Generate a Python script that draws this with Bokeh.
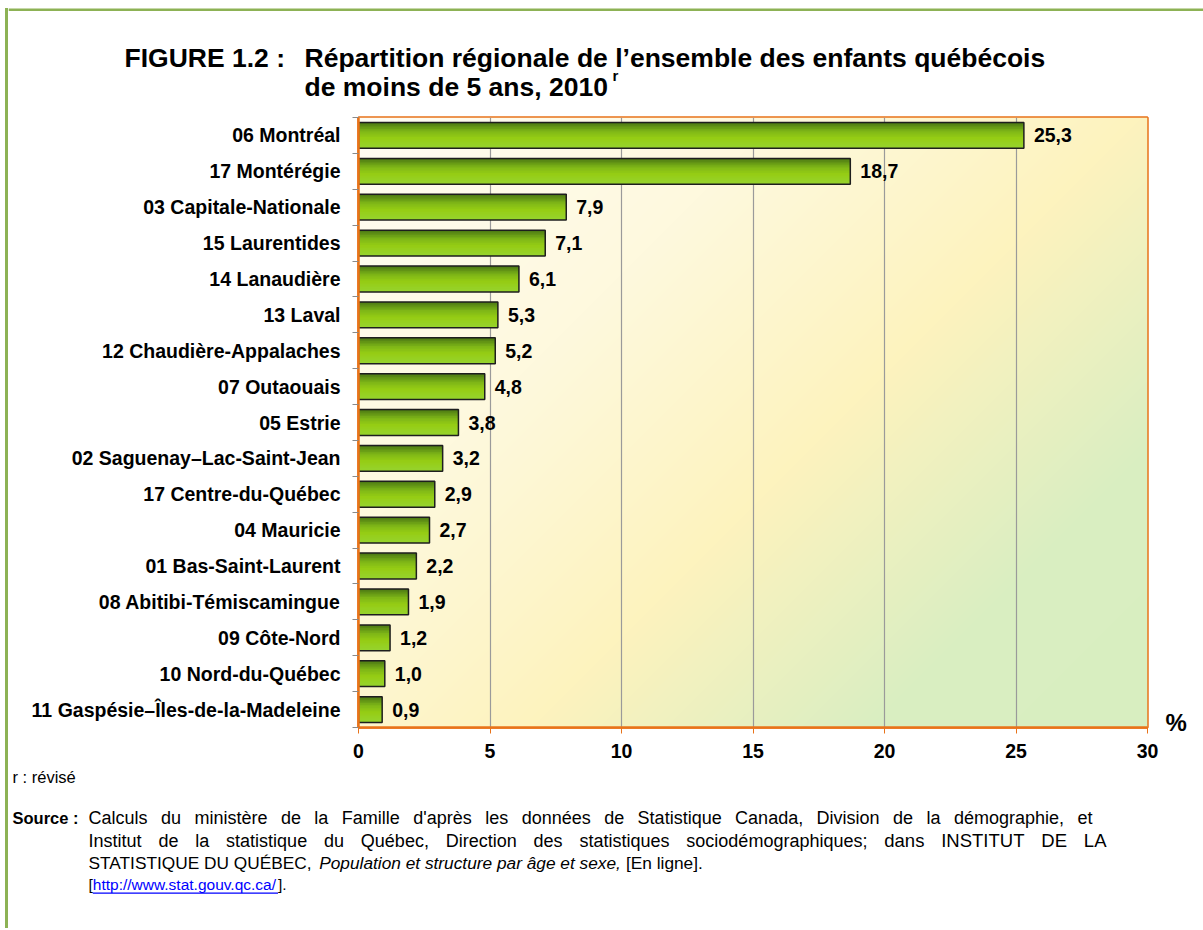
import numpy as np
from bokeh.plotting import figure
from bokeh.layouts import row, column
from bokeh.models import Range1d, FixedTicker, ColumnDataSource, LinearAxis, Spacer
from bokeh.core.properties import value
from bokeh.embed import file_html
from bokeh.resources import INLINE

# ---------------- data ----------------
regions = [
    "06 Montréal", "17 Montérégie", "03 Capitale-Nationale", "15 Laurentides",
    "14 Lanaudière", "13 Laval", "12 Chaudière-Appalaches", "07 Outaouais",
    "05 Estrie", "02 Saguenay–Lac-Saint-Jean", "17 Centre-du-Québec",
    "04 Mauricie", "01 Bas-Saint-Laurent", "08 Abitibi-Témiscamingue",
    "09 Côte-Nord", "10 Nord-du-Québec", "11 Gaspésie–Îles-de-la-Madeleine",
]
shares = [25.3, 18.7, 7.9, 7.1, 6.1, 5.3, 5.2, 4.8, 3.8, 3.2, 2.9, 2.7, 2.2, 1.9, 1.2, 1.0, 0.9]
x_ticks = [0, 5, 10, 15, 20, 25, 30]

title_label = "FIGURE 1.2 :"
title_line1 = "Répartition régionale de l’ensemble des enfants québécois"
title_line2 = "de moins de 5 ans, 2010"
title_sup = "r"
unit_text = "%"
note_text = "r : révisé"
source_head = "Source :"
source_l1 = "Calculs du ministère de la Famille d'après les données de Statistique Canada, Division de la démographie, et"
source_l2a = "Institut de la statistique du Québec, Direction des statistiques sociodémographiques;"
source_l2b = "dans INSTITUT DE LA"
source_l3a = "STATISTIQUE DU QUÉBEC,"
source_l3b = "Population et structure par âge et sexe,"
source_l3c = "[En ligne]."
source_url = "http://www.stat.gouv.qc.ca/"

# ---------------- layout constants (page pixels) ----------------
FONT = "Liberation Sans"
ORANGE = "#E8731A"
GREEN_BORDER = "#8DB255"
PAGE_W, PAGE_H = 1203, 928
X0 = 8                      # left edge of the main column (after the outer border)
TOP_H = 105
CHART_H = 659
FOOT_H = PAGE_H - TOP_H - CHART_H
FRAME_L, FRAME_R, FRAME_T, FRAME_B = 358, 1147, 117, 727
COL_W = PAGE_W - X0

# Arial / Liberation Sans advance widths (1/1000 em) used to lay out the source note
_W = {" ": 278, "'": 191, ",": 278, "-": 333, ".": 278, "/": 278, ":": 278, ";": 278,
      "[": 278, "]": 278, "–": 556}
for ch, w in zip("abcdefghijklmnopqrstuvwxyz",
                 [556, 556, 500, 556, 556, 278, 556, 556, 222, 222, 500, 222, 833,
                  556, 556, 556, 556, 333, 500, 278, 556, 500, 722, 500, 500, 500]):
    _W[ch] = w
for ch, w in zip("ABCDEFGHIJKLMNOPQRSTUVWXYZ",
                 [667, 667, 722, 722, 667, 611, 778, 722, 278, 500, 667, 556, 833,
                  722, 778, 667, 778, 722, 667, 611, 722, 667, 944, 667, 667, 611]):
    _W[ch] = w
for ch, base in zip("éèêàâôûçÉ", "eeeaaoucE"):
    _W[ch] = _W[base]


def tw(s, size):
    return sum(_W.get(c, 556) for c in s) * size / 1000.0


def deco_fig(px0, py0, w, h):
    f = figure(width=w, height=h, x_range=Range1d(px0, px0 + w), y_range=Range1d(py0 + h, py0),
               output_backend="svg", toolbar_location=None, min_border=0,
               x_axis_location=None, y_axis_location=None,
               background_fill_color="white", border_fill_color="white")
    f.grid.visible = False
    f.outline_line_color = None
    return f


def txt(f, s, x, y, size, style="normal", color="black", align="left", baseline="middle"):
    f.text(x=[x], y=[y], text=[s], text_font=value(FONT), text_font_size="%.2fpx" % size,
           text_font_style=style, text_color=color, text_align=align, text_baseline=baseline)


def justify(f, pieces, x0, x1, y):
    # pieces: list of (text, size); words are spread so that the line spans x0..x1
    words = [(w, s) for t, s in pieces for w in t.split(" ")]
    total = sum(tw(w, s) for w, s in words)
    gap = (x1 - x0 - total) / (len(words) - 1)
    x = x0
    for w, s in words:
        txt(f, w, x, y, s)
        x += tw(w, s) + gap


# ---------------- top: title ----------------
top = deco_fig(X0, 0, COL_W, TOP_H)
top.quad(left=[X0], right=[PAGE_W], top=[8], bottom=[10.5], fill_color=GREEN_BORDER, line_color=None)
txt(top, title_label, 124, 57, 26.5, "bold", baseline="alphabetic")
txt(top, title_line1, 304, 57, 26.5, "bold", baseline="alphabetic")
txt(top, title_line2, 304, 86, 26.5, "bold", baseline="alphabetic")
txt(top, title_sup, 612, 75, 15, "bold", baseline="alphabetic")

# ---------------- chart ----------------
n = len(regions)
pos = [n - 1 - i for i in range(n)]
xmin, xmax = x_ticks[0], x_ticks[-1]
ymin, ymax = -0.5, n - 0.5

FW, FH = FRAME_R - FRAME_L, FRAME_B - FRAME_T
p = figure(width=COL_W, height=CHART_H, output_backend="svg", toolbar_location=None,
           x_range=Range1d(xmin, xmax), y_range=Range1d(ymin, ymax),
           min_border_left=FRAME_L - X0, min_border_right=PAGE_W - FRAME_R,
           min_border_top=FRAME_T - TOP_H, min_border_bottom=TOP_H + CHART_H - FRAME_B,
           background_fill_color="white", border_fill_color="white")

# background gradient of the plot area
xs = np.arange(FW)[None, :]
ys = np.arange(FH)[:, None]
t = (xs + ys) / float(FW + FH)
stops_t = [0.0, 0.3, 0.56, 0.8, 1.0]
stops_c = [(255, 253, 244), (254, 249, 222), (253, 243, 190), (218, 238, 194), (216, 238, 192)]
rgb = [np.interp(t, stops_t, [c[k] for c in stops_c]).astype(np.uint32) for k in range(3)]
img = (rgb[0] | (rgb[1] << 8) | (rgb[2] << 16) | (np.uint32(255) << 24)).astype(np.uint32)
img = img[::-1]
p.image_rgba(image=[img], x=xmin, y=ymin, dw=xmax - xmin, dh=ymax - ymin, level="image")

# bars with a vertical gradient
bar_h = 0.72
NS = 16
g_t = [0.0, 0.35, 0.6, 1.0]
g_c = [(74, 118, 20), (128, 184, 24), (150, 205, 20), (150, 212, 48)]
L, R, T, B, C = [], [], [], [], []
for k in range(NS):
    fr = (k + 0.5) / NS
    col = tuple(int(np.interp(fr, g_t, [c[j] for c in g_c])) for j in range(3))
    hexc = "#%02x%02x%02x" % col
    for yv, v in zip(pos, shares):
        tp = yv + bar_h / 2 - k * bar_h / NS
        bt = max(tp - bar_h / NS - 0.03, yv - bar_h / 2)
        L.append(0); R.append(v); T.append(tp); B.append(bt); C.append(hexc)
p.quad(left=L, right=R, top=T, bottom=B, fill_color=C, line_color=None)
p.hbar(y=pos, right=shares, left=0, height=bar_h, fill_color=None,
       line_color="#1e1e1e", line_width=1.5)

src = ColumnDataSource(dict(x=shares, y=pos, t=[f"{v:.1f}".replace(".", ",") for v in shares]))
p.text(x="x", y="y", text="t", source=src, x_offset=10, text_align="left", text_baseline="middle",
       text_font=value(FONT), text_font_style="bold", text_font_size="19.5px", text_color="black")

p.xgrid.ticker = FixedTicker(ticks=x_ticks)
p.xgrid.grid_line_color = "#9a9a9a"
p.xgrid.grid_line_width = 1.2
p.ygrid.grid_line_color = None
p.outline_line_color = ORANGE
p.outline_line_width = 2.5

xa = p.xaxis[0]
xa.ticker = FixedTicker(ticks=x_ticks)
xa.axis_line_color = ORANGE
xa.axis_line_width = 2.5
xa.major_tick_line_color = ORANGE
xa.major_tick_out = 6
xa.major_tick_in = 0
xa.minor_tick_line_color = None
xa.major_label_standoff = 10
xa.major_label_text_font = FONT
xa.major_label_text_font_style = "bold"
xa.major_label_text_font_size = "19.5px"
xa.major_label_text_color = "black"

ya = p.yaxis[0]
ya.ticker = FixedTicker(ticks=pos, minor_ticks=[b - 0.5 for b in range(n + 1)])
ya.major_label_overrides = {yv: r for yv, r in zip(pos, regions)}
ya.axis_line_color = ORANGE
ya.axis_line_width = 2.5
ya.major_tick_out = 0
ya.major_tick_in = 0
ya.minor_tick_out = 6
ya.minor_tick_in = 0
ya.minor_tick_line_color = "#8a8a8a"
ya.minor_tick_line_width = 1.2
ya.major_label_standoff = 12
ya.major_label_text_font = FONT
ya.major_label_text_font_style = "bold"
ya.major_label_text_font_size = "19.5px"
ya.major_label_text_color = "black"

# unit "%" shown as the single label of an axis on the right, near the bottom of the frame
unit_y = ymin + 0.15
ra = LinearAxis(ticker=FixedTicker(ticks=[unit_y]), major_label_overrides={unit_y: unit_text},
                axis_line_color=None, major_tick_line_color=None, minor_tick_line_color=None,
                major_label_standoff=12, major_label_text_font=FONT,
                major_label_text_font_style="bold", major_label_text_font_size="24px",
                major_label_text_color="black")
p.add_layout(ra, "right")

# ---------------- footer ----------------
FY0 = TOP_H + CHART_H
foot = deco_fig(X0, FY0, COL_W, FOOT_H)
txt(foot, note_text, 12, 776, 16.5)
txt(foot, source_head, 12, 817, 16.5, "bold")
justify(foot, [(source_l1, 18)], 88, 1092, 817)
justify(foot, [(source_l2a, 18), (source_l2b, 18.5)], 88, 1106, 840)
x = 88
x_b = x + tw(source_l3a + " ", 17.3)
x_c = x_b + tw(source_l3b + " ", 17.3)
txt(foot, source_l3a, x, 862, 17.3)
txt(foot, source_l3b, x_b, 862, 17.3, "italic")
txt(foot, source_l3c, x_c, 862, 17.3)
x_u = 88 + tw("[", 15.5)
x_e = x_u + tw(source_url, 15.5)
txt(foot, "[", 88, 884, 15.5)
txt(foot, source_url, x_u, 884, 15.5, color="#0000FF")
txt(foot, "].", x_e, 884, 15.5)
foot.quad(left=[x_u], right=[x_e], top=[892], bottom=[893.3], fill_color="#0000FF", line_color=None)

# ---------------- outer border on the left ----------------
border_col = column(Spacer(width=3, height=8),
                    Spacer(width=3, height=PAGE_H - 8, styles={"background-color": GREEN_BORDER}))
main_col = column(row(top), row(p), row(foot))
layout = row(Spacer(width=5, height=PAGE_H), border_col, main_col)
open("out.html", "w").write(file_html(layout, INLINE))
